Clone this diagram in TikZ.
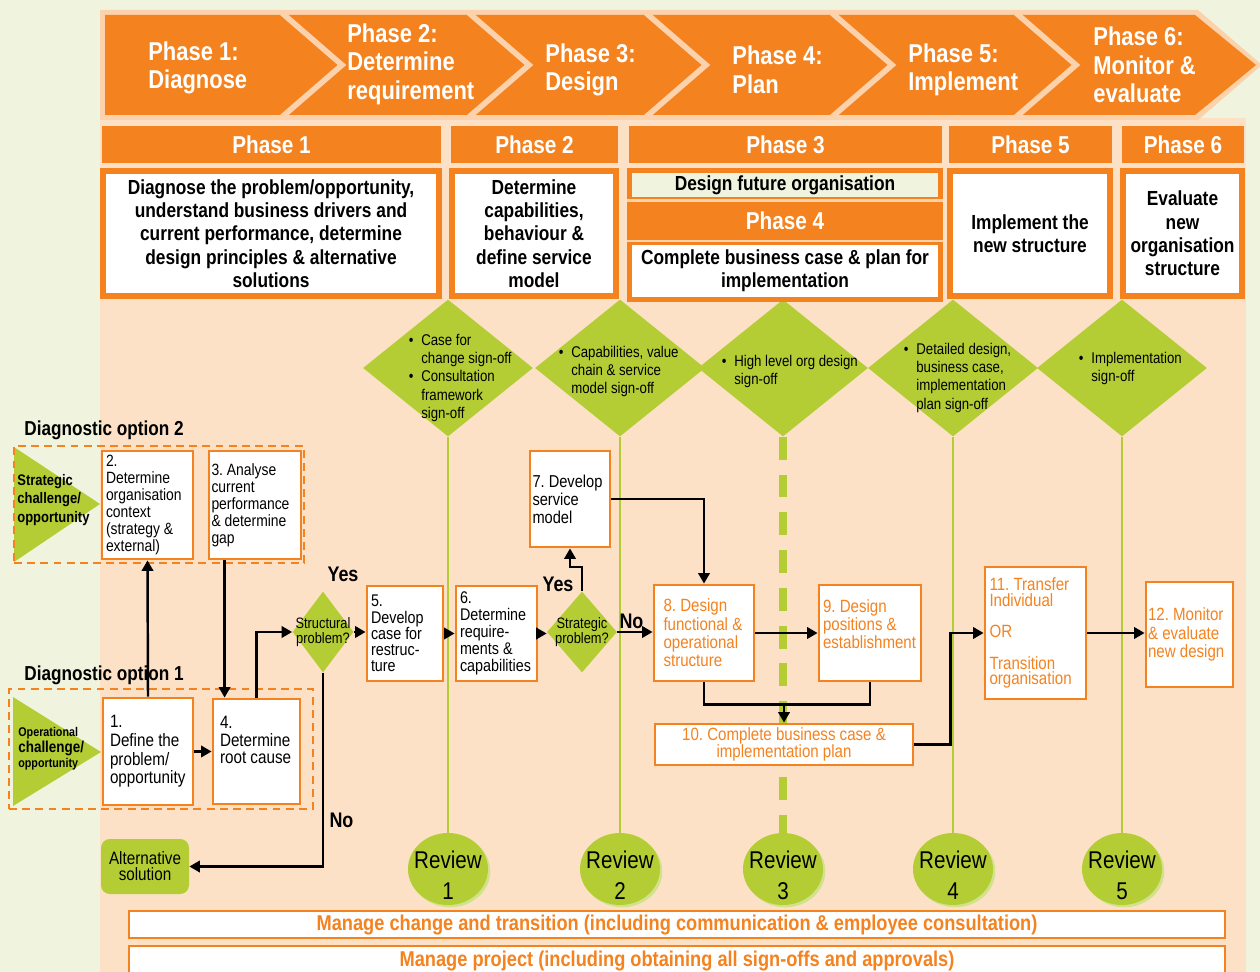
\documentclass[tikz,border=0pt]{standalone}
\usepackage{fontspec}
\setmainfont{Liberation Sans}[FakeStretch=0.85]
\usetikzlibrary{positioning,calc,arrows.meta,shapes.geometric,shadows}
\definecolor{orng}{HTML}{F4821F}
\definecolor{peach}{HTML}{FCE1C6}
\definecolor{peachdk}{HTML}{FBD2AB}
\definecolor{bggrn}{HTML}{F0F4DE}
\definecolor{lime}{HTML}{B5CD35}
\definecolor{limelt}{HTML}{D2E28C}
\newcommand{\sobul}{\makebox[0pt][r]{\textbullet\hspace{4.5pt}}}
\tikzset{spanbox/.style args={#1/#2/#3/#4}{at={({(#1+#3)/2},{(#2+#4)/2})}, minimum width={(#3-#1)*0.02cm}, minimum height={(#4-#2)*0.02cm}}}
\tikzset{chevtxt/.style={anchor=west, align=left, text=white, inner sep=0pt, font=\bfseries\fontsize{14.7}{16.2}\selectfont}}
\tikzset{phasehd/.style={fill=orng, inner sep=0pt, text=white, font=\bfseries\fontsize{13.9}{16}\selectfont}}
\tikzset{phasedesc/.style={draw=orng, line width=3.4pt, fill=white, inner sep=0pt, align=center, font=\bfseries\fontsize{11.6}{13.3}\selectfont}}
\tikzset{signoff/.style={diamond, fill=lime, minimum width=3.4cm, minimum height=2.74cm, inner sep=0pt}}
\tikzset{sotxt/.style={anchor=north west, align=left, inner sep=0pt, font=\fontsize{8.85}{10.35}\selectfont}}
\tikzset{review/.style={ellipse, fill=lime, minimum width=1.6cm, minimum height=1.44cm, inner sep=0pt, drop shadow={fill=limelt, opacity=1, shadow xshift=1.3pt, shadow yshift=-1.3pt}}}
\tikzset{rvtxt/.style={align=center, inner sep=0pt, font=\fontsize{13.8}{17.6}\selectfont}}
\tikzset{fbox/.style={draw=orng, line width=1.6pt, fill=white, inner sep=0pt, align=flush left, font=\fontsize{9.3}{9.7}\selectfont}}
\tikzset{fboxo/.style={fbox, text=orng, font=\fontsize{10.1}{10.4}\selectfont}}
\tikzset{decide/.style={diamond, fill=lime, inner sep=0pt, minimum height=1.62cm}}
\tikzset{dtxt/.style={align=center, inner sep=0pt, font=\fontsize{8.6}{8.2}\selectfont}}
\tikzset{optbox/.style={draw=orng, line width=1.7pt, dash pattern=on 4.5pt off 3pt, inner sep=0pt}}
\tikzset{optlbl/.style={anchor=west, inner sep=0pt, font=\bfseries\fontsize{11.5}{13}\selectfont}}
\tikzset{tritxt/.style={anchor=west, align=left, inner sep=0pt, font=\bfseries\fontsize{8.7}{10.4}\selectfont}}
\tikzset{yesno/.style={inner sep=0pt, font=\bfseries\fontsize{12}{13}\selectfont}}
\tikzset{altbox/.style={fill=lime, rounded corners=5pt, inner sep=0pt, align=center, font=\fontsize{10.2}{9.2}\selectfont}}
\tikzset{bar/.style={draw=orng, line width=1.6pt, fill=white, inner sep=0pt, text=orng, font=\bfseries\fontsize{12.2}{14}\selectfont}}
\tikzset{arr/.style={draw, line width=1.4pt, -{Triangle[length=6pt,width=6.5pt]}}}
\tikzset{ln/.style={draw, line width=1.4pt}}
\tikzset{vline/.style={draw=lime, line width=1.6pt}}
\tikzset{vdash/.style={draw=lime, line width=4pt, dash pattern=on 13pt off 8.5pt}}
\begin{document}
\frenchspacing
\begin{tikzpicture}[x=0.02cm, y=-0.02cm, every node/.append style={execute at begin node=\frenchspacing}]
			\useasboundingbox (0,0) rectangle (1260,972);
			\fill[bggrn] (0,0) rectangle (1260,972);
			\fill[peach] (100,118) rectangle (1246,972);
			%
			% phase chevrons
			\fill[peachdk] (100,10) -- (1198,10) -- (1262,65) -- (1198,120) -- (100,120) -- cycle;
			\fill[orng] (105,15) -- (1195,15) -- (1256,65) -- (1195,115) -- (105,115) -- cycle;
			\foreach \x in {282,469,646,832,1016}
				\draw[peachdk, line width=3.2pt] (\x,13) -- (\x+60,65) -- (\x,117);
			\node[chevtxt] (c1) at (148,68) {Phase 1:\\Diagnose};
			\node[chevtxt] (c2) at (347,64) {Phase 2:\\Determine\\requirement};
			\node[chevtxt] (c3) at (545,70) {Phase 3:\\Design};
			\node[chevtxt] (c4) at (732,70) {Phase 4:\\Plan};
			\node[chevtxt] (c5) at (908,70) {Phase 5:\\Implement};
			\node[chevtxt] (c6) at (1093,65) {Phase 6:\\Monitor \&\\evaluate};
			%
			% sign-off diamonds and review lines
			\foreach \n/\x in {1/448,2/620,3/783,4/953,5/1122}
				\node[signoff] (so\n) at (\x,368) {};
			\node[sotxt] (so1t) at (421,334) {\sobul Case for\\change sign-off\\\sobul Consultation\\framework\\sign-off};
			\node[sotxt] (so2t) at (571,346) {\sobul Capabilities, value\\chain \& service\\model sign-off};
			\node[sotxt] (so3t) at (734,355) {\sobul High level org design\\sign-off};
			\node[sotxt] (so4t) at (916,343) {\sobul Detailed design,\\business case,\\implementation\\plan sign-off};
			\node[sotxt] (so5t) at (1091,352) {\sobul Implementation\\sign-off};
			%
			\foreach \n/\x in {1/448,2/620,3/783,4/953,5/1122} {
				\node[review] (rv\n) at (\x,869) {};
				\node[rvtxt] (rvt\n) at (\x,875) {Review\\\n};
			}
			\draw[vline] (so1.south) -- (rv1.north);
			\draw[vline] (so2.south) -- (rv2.north);
			\draw[vdash] (so3.south) -- (rv3.north);
			\draw[vline] (so4.south) -- (rv4.north);
			\draw[vline] (so5.south) -- (rv5.north);
			%
			% phase headers
			\node[phasehd, spanbox=102/126/441/163] (h1) {Phase 1};
			\node[phasehd, spanbox=451/126/618/163] (h2) {Phase 2};
			\node[phasehd, spanbox=629/126/942/163] (h3) {Phase 3};
			\node[phasehd, spanbox=949/126/1112/163] (h5) {Phase 5};
			\node[phasehd, spanbox=1122/126/1244/163] (h6) {Phase 6};
			%
			\node[phasedesc, spanbox=103/171/439/296] (d1) {Diagnose the problem/opportunity,\\understand business drivers and\\current performance, determine\\design principles \& alternative\\solutions};
			\node[phasedesc, spanbox=452/171/616/296] (d2) {Determine\\capabilities,\\behaviour \&\\define service\\model};
			\fill[orng] (627,168) rectangle (943,302);
			\node[phasedesc, draw=none, fill=bggrn, spanbox=632/173/938/197] (d3) {Design future organisation};
			\draw[peachdk, line width=1.7pt] (627,200.5) -- (943,200.5);
			\node[phasehd, spanbox=632/205/938/237] (h4) {Phase 4};
			\draw[peachdk, line width=1.7pt] (627,241) -- (943,241);
			\node[phasedesc, draw=none, spanbox=632/245/938/297] (d4) {Complete business case \& plan for\\implementation};
			\node[phasedesc, spanbox=950/171/1110/296] (d5) {Implement the\\new structure};
			\node[phasedesc, spanbox=1123/171/1242/296] (d6) {Evaluate\\new\\organisation\\structure};
			%
			% diagnostic options
			\node[optlbl] (opt2l) at (24,430) {Diagnostic option 2};
			\fill[lime] (14,447) -- (100,504) -- (14,562) -- cycle;
			\node[tritxt] (tri2) at (17,500) {Strategic\\challenge/\\opportunity};
			\node[optbox, spanbox=14/446/304/563] (opt2) {};
			\node[fbox, spanbox=102/451/193/559, text width=1.66cm] (b2) {2.\\Determine\\organisation\\context\\(strategy \&\\external)};
			\node[fbox, spanbox=209/451/301/559, text width=1.74cm] (b3) {3. Analyse\\current\\performance\\\& determine\\gap};
			%
			\node[optlbl] (opt1l) at (24,675) {Diagnostic option 1};
			\fill[lime] (13,697) -- (101,752) -- (13,806) -- cycle;
			\node[tritxt, font=\bfseries\fontsize{7.2}{8.8}\selectfont] (tri1) at (18,749) {Operational\\{\fontsize{9}{9}\selectfont challenge/}\\opportunity};
			\node[optbox, spanbox=9/689/313/809] (opt1) {};
			\node[fbox, font=\fontsize{10.2}{10.6}\selectfont, spanbox=103/698/193/805, text width=1.52cm] (b1) {1.\\Define the\\problem/\\opportunity};
			\node[fbox, font=\fontsize{10.2}{10.2}\selectfont, spanbox=213/699/300/804, text width=1.46cm] (b4) {4.\\Determine\\root cause\\[3pt]\mbox{}};
			%
			% flow
			\node[decide, minimum width=1.22cm] (dsp) at (323,632) {};
			\node[dtxt] (dspt) at (dsp) {Structural\\problem?};
			\node[fbox, font=\fontsize{9.6}{9.2}\selectfont, spanbox=367/586/443/681, text width=1.36cm] (b5) {5.\\Develop\\case for\\restruc-\\ture};
			\node[fbox, font=\fontsize{9.6}{9.6}\selectfont, spanbox=456/586/537/681, text width=1.46cm] (b6) {6.\\Determine\\require-\\ments \&\\capabilities};
			\node[decide, minimum width=1.4cm] (dst) at (582,632) {};
			\node[dtxt] (dstt) at (dst) {Strategic\\problem?};
			\node[fbox, font=\fontsize{9.8}{10.2}\selectfont, spanbox=530/451/610/547, text width=1.5cm] (b7) {7. Develop\\service\\model};
			\node[fboxo, spanbox=654/585/754/681, text width=1.62cm] (b8) {8. Design\\functional \&\\operational\\structure};
			\node[fboxo, spanbox=819/585/921/681, text width=1.88cm] (b9) {9. Design\\positions \&\\establishment\\\mbox{}};
			\node[fboxo, align=center, font=\fontsize{10.1}{9.6}\selectfont, spanbox=655/724/913/765] (b10) {10. Complete business case \&\\implementation plan};
			\node[fboxo, font=\fontsize{10.1}{8.8}\selectfont, spanbox=985/567/1086/699, text width=1.84cm] (b11) {11. Transfer\\Individual\\[9.2pt]OR\\[9pt]Transition\\organisation};
			\node[fboxo, spanbox=1146/582/1233/687, text width=1.66cm] (b12) {12. Monitor\\\& evaluate\\new design};
			\node[altbox, spanbox=101/839/189/894] (alt) {Alternative\\solution};
			%
			\node[yesno] (yes1) at (343,574) {Yes};
			\node[yesno] (yes2) at (558,584) {Yes};
			%
			\draw[arr] (b1.north) -- (b2.south);
			\draw[arr] ([xshift=0.34cm]b3.south west) -- ([xshift=0.34cm]b3.south west |- b4.north);
			\draw[arr] (b1.east) -- (b1.east -| b4.west);
			\draw[arr] ([xshift=0.9cm]b4.north west) |- (dsp.west);
			\draw[arr] (dsp.east) -- (dsp.east -| b5.west);
			\draw[arr] (dsp.south) |- node[yesno, pos=0.38, right=3pt] {No} (alt.east);
			\draw[arr] (b5.east) -- (b5.east -| b6.west);
			\draw[arr] (b6.east) -- (b6.east -| dst.west);
			\draw[arr] (dst.north) -- ++(0,-24) -| (b7.south);
			\draw[arr] (dst.east) -- node[yesno, pos=0.4, above=1pt] {No} (dst.east -| b8.west);
			\draw[arr] (b7.east) -| (b8.north);
			\draw[arr] (b8.east) -- (b8.east -| b9.west);
			\draw[ln] (b8.south) -- ++(0,22) coordinate (j89) -| (b9.south);
			\draw[arr] (j89 -| b10.north) -- (b10.north);
			\draw[arr] (b10.east) -- ++(36,0) |- (b11.west);
			\draw[arr] (b11.east) -- (b11.east -| b12.west);
			%
			% bottom bars
			\node[bar, spanbox=129/911/1225/938] (bar1) {Manage change and transition (including communication \& employee consultation)};
			\node[bar, spanbox=129/946/1225/976] (bar2) {Manage project (including obtaining all sign-offs and approvals)};
		\end{tikzpicture}
\end{document}
